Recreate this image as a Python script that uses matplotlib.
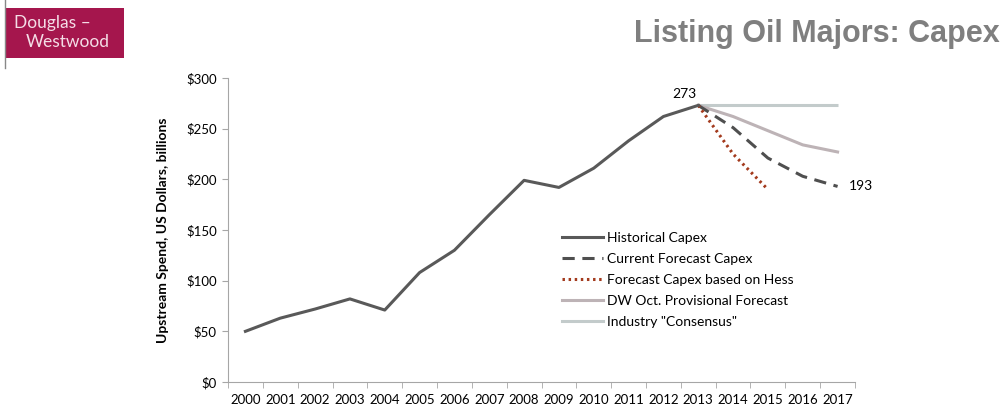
import matplotlib
matplotlib.use("Agg")
import matplotlib.pyplot as plt
from matplotlib.patches import Rectangle
from matplotlib.lines import Line2D

years = [str(y) for y in range(2000, 2018)]
hist_years = years[:14]
hist_vals = [50, 63, 72, 82, 71, 108, 130, 165, 199, 192, 211, 238, 262, 273]
fc_years = ["2013", "2014", "2015", "2016", "2017"]
fc_vals = [273, 251, 221, 203, 193]
hess_years = ["2013", "2014", "2015"]
hess_vals = [273, 225, 190]
dw_years = ["2013", "2014", "2015", "2016", "2017"]
dw_vals = [273, 262, 248, 234, 227]
cons_years = ["2013", "2014", "2015", "2016", "2017"]
cons_vals = [273, 273, 273, 273, 273]
y_ticks = [0, 50, 100, 150, 200, 250, 300]
labels = ["Historical Capex", "Current Forecast Capex", "Forecast Capex based on Hess",
          "DW Oct. Provisional Forecast", 'Industry "Consensus"']

plt.rcParams['font.family'] = ['Lato', 'DejaVu Sans']

fig = plt.figure(figsize=(10.06, 4.09), dpi=100)
ax = fig.add_axes([228/1006, 1-382/409, (855-228)/1006, (382-78)/409])

idx = {y: i for i, y in enumerate(years)}
def xs(lst):
    return [idx[y] for y in lst]

ax.plot(xs(cons_years), cons_vals, color="#c3cbcb", lw=2.2, solid_capstyle="butt", zorder=2)
ax.plot(xs(dw_years), dw_vals, color="#bdb3b6", lw=2.2, zorder=2)
ax.plot(xs(fc_years), fc_vals, color="#4f4f4f", lw=2.2, ls=(0, (4, 2.5)), zorder=3)
ax.plot(xs(hess_years), hess_vals, color="#a33a1d", lw=2.2, ls=(0, (0.8, 1.2)), zorder=3)
ax.plot(xs(hist_years), hist_vals, color="#595959", lw=2.2, zorder=4)

ax.set_xlim(-0.5, 17.5)
ax.set_ylim(0, 300)
ax.set_yticks(y_ticks)
ax.set_yticklabels([f"${v}" for v in y_ticks], fontsize=9.5)
ax.set_xticks(range(len(years)))
ax.set_xticklabels(years, fontsize=9.5)
ax.set_xticks([i - 0.5 for i in range(len(years) + 1)], minor=True)
ax.tick_params(axis='x', which='major', length=0, pad=9)
ax.tick_params(axis='x', which='minor', length=4, color="#a6a6a6")
ax.tick_params(axis='y', length=4, color="#a6a6a6", pad=4)
for s in ["top", "right"]:
    ax.spines[s].set_visible(False)
for s in ["left", "bottom"]:
    ax.spines[s].set_color("#a6a6a6")

ax.set_ylabel("Upstream Spend, US Dollars, billions", fontsize=10, fontweight="bold", labelpad=12)

ax.annotate("273", (idx["2013"], 273), xytext=(-10, 4), textcoords="offset points",
            fontsize=10, ha="center", va="bottom")
ax.annotate("193", (idx["2017"], 193), xytext=(8, 0), textcoords="offset points",
            fontsize=10, ha="left", va="center")

handles = [
    Line2D([], [], color="#595959", lw=2.2),
    Line2D([], [], color="#4f4f4f", lw=2.2, ls=(0, (4, 2.5))),
    Line2D([], [], color="#a33a1d", lw=2.2, ls=(0, (0.8, 1.2))),
    Line2D([], [], color="#bdb3b6", lw=2.2),
    Line2D([], [], color="#c3cbcb", lw=2.2),
]
leg = ax.legend(handles, labels, loc="upper left", bbox_to_anchor=((556-228)/627, (382-226)/304),
                frameon=False, fontsize=10, handlelength=3.0, handletextpad=0.3,
                labelspacing=0.66, borderaxespad=0)

# Header
fig.add_artist(Line2D([5/1006, 5/1006], [1, 1-68/409], color="#888888", lw=1))
fig.add_artist(Rectangle((6/1006, 1-58/409), 118/1006, 50/409, facecolor="#a5164d",
                         edgecolor="none", transform=fig.transFigure))
fig.text(14/1006, 1-23/409, "Douglas –", color="#f4dde6", fontsize=12.5,
         va="center", ha="left")
fig.text(26/1006, 1-42/409, "Westwood", color="#f4dde6", fontsize=12.5,
         va="center", ha="left")
fig.text(1000/1006, 1-34/409, "Listing Oil Majors: Capex", color="#7f7f7f", fontsize=22,
         fontweight="bold", family=['Liberation Sans', 'DejaVu Sans'], ha="right", va="center")

fig.savefig("out.png", dpi=100, facecolor="white")
